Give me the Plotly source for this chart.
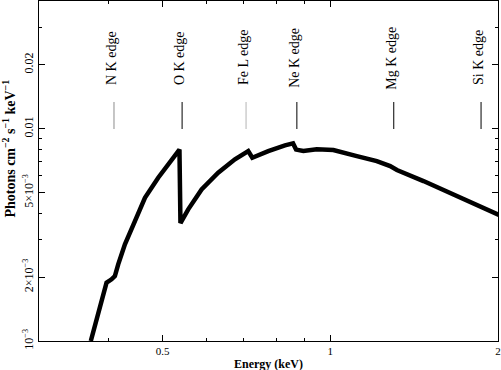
import math
import plotly.graph_objects as go

# model spectrum (keV, photons cm^-2 s^-1 keV^-1)
energy = [0.3716, 0.3805, 0.3884, 0.3966, 0.4049, 0.4105, 0.4162, 0.4279, 0.4460, 0.4648,
          0.4910, 0.5153, 0.5361, 0.5383, 0.5559, 0.5875, 0.6292, 0.6743, 0.7124, 0.7244,
          0.7739, 0.8293, 0.8574, 0.8682, 0.8947, 0.9458, 1.013, 1.116, 1.212, 1.281,
          1.317, 1.470, 1.642, 1.834, 2.011]
flux = [1.000e-3, 1.242e-3, 1.489e-3, 1.883e-3, 1.953e-3, 2.024e-3, 2.298e-3, 2.853e-3, 3.674e-3, 4.732e-3,
        5.877e-3, 6.915e-3, 7.980e-3, 3.595e-3, 4.173e-3, 5.180e-3, 6.205e-3, 7.176e-3, 7.852e-3, 7.300e-3,
        7.852e-3, 8.350e-3, 8.530e-3, 7.980e-3, 7.852e-3, 8.000e-3, 7.940e-3, 7.435e-3, 7.045e-3, 6.670e-3,
        6.390e-3, 5.670e-3, 4.995e-3, 4.405e-3, 3.922e-3]

edge_names = ["N K edge", "O K edge", "Fe L edge", "Ne K edge", "Mg K edge", "Si K edge"]
edge_energy = [0.409, 0.542, 0.706, 0.871, 1.30, 1.865]
edge_color = ["#8c8c8c", "black", "#b4b4b4", "black", "black", "black"]

font = "Liberation Serif"

fig = go.Figure()
fig.add_trace(go.Scatter(x=energy, y=flux, mode="lines",
                         line=dict(color="black", width=4.5), showlegend=False))

for name, e, c in zip(edge_names, edge_energy, edge_color):
    fig.add_shape(type="line", x0=e, x1=e, xref="x", yref="paper",
                  y0=(340 - 128) / 340, y1=(340 - 101) / 340,
                  line=dict(color=c, width=1))
    fig.add_annotation(x=math.log10(e), xref="x", y=(340 - 57) / 340, yref="paper",
                       xanchor="center", yanchor="middle",
                       text=name, textangle=-90, showarrow=False, xshift=-2,
                       font=dict(family=font, size=14, color="black"))

fig.add_annotation(x=-0.066, xref="paper", y=0.565, yref="paper", textangle=-90,
                   xanchor="center", yanchor="middle",
                   text="<b>Photons cm<sup>−2</sup> s<sup>−1</sup> keV<sup>−1</sup></b>",
                   showarrow=False, font=dict(family=font, size=14, color="black"))
fig.add_annotation(x=0.5, xref="paper", y=-(363 - 340) / 340, yref="paper",
                   xanchor="center", yanchor="middle",
                   text="<b>Energy (keV)</b>", showarrow=False,
                   font=dict(family=font, size=12, color="black"))

fig.update_layout(
    width=501, height=370,
    margin=dict(l=39, r=3, t=1, b=29),
    paper_bgcolor="white", plot_bgcolor="white",
    font=dict(family=font, size=11, color="black"),
    xaxis=dict(type="log", range=[-0.5229, 0.3011], automargin=False,
               tickvals=[0.5, 1, 2], ticktext=["0.5", "1", "2"],
               tickfont=dict(size=11),
               ticks="inside", ticklen=6, tickcolor="black",
               showline=True, linecolor="black", linewidth=1, mirror="ticks",
               showgrid=False, zeroline=False,
               minor=dict(tickvals=[0.4, 0.6, 0.7, 0.8, 0.9], ticks="inside",
                          ticklen=3, tickcolor="black", showgrid=False)),
    yaxis=dict(type="log", range=[-3, -1.3979], automargin=False,
               tickvals=[0.001, 0.002, 0.005, 0.01, 0.02],
               ticktext=["10<sup>−3</sup>", "2×10<sup>−3</sup>", "5×10<sup>−3</sup>", "0.01", "0.02"],
               tickangle=-90, tickfont=dict(size=12),
               ticks="inside", ticklen=6, tickcolor="black",
               showline=True, linecolor="black", linewidth=1, mirror="ticks",
               showgrid=False, zeroline=False,
               minor=dict(tickvals=[0.003, 0.004, 0.006, 0.007, 0.008, 0.009, 0.03, 0.04],
                          ticks="inside", ticklen=3, tickcolor="black", showgrid=False)),
)

# page body has a default 8px margin; drop it so the figure sits at the window corner
fig.write_html("out.html", config={"displayModeBar": False},
               post_script="document.body.style.margin='0';")
